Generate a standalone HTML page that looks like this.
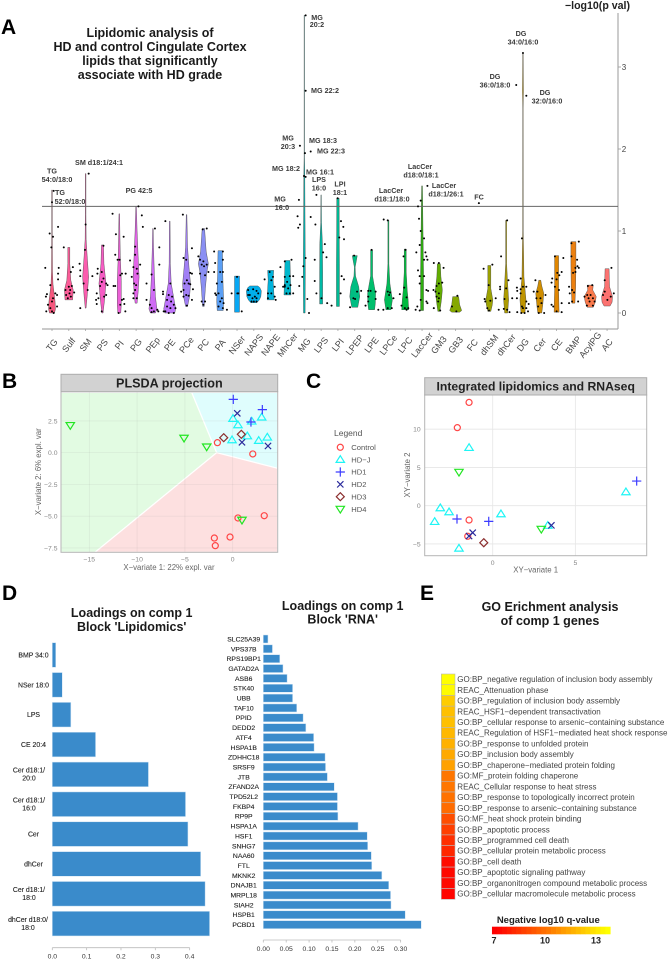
<!DOCTYPE html>
<html lang="en">
<head>
<meta charset="utf-8">
<title>Lipidomic analysis figure</title>
<style>
  html, body { margin: 0; padding: 0; background: #fff; }
  svg { display: block; font-family: "Liberation Sans", sans-serif; filter: blur(0.3px); }
  .note { font-size: 7.2px; font-weight: 700; fill: #3a3a3a; text-anchor: middle; }
  .letter { font-size: 21px; font-weight: 700; fill: #000; }
  .title { font-size: 12.5px; font-weight: 700; fill: #1a1a1a; text-anchor: middle; }
  .axis-label { font-size: 7.8px; fill: #666; text-anchor: middle; }
</style>
</head>
<body>
<svg id="fig" xmlns="http://www.w3.org/2000/svg" width="670" height="960" viewBox="0 0 670 960">
  <rect x="0" y="0" width="670" height="960" fill="#fff"/>

  <text class="letter" x="1" y="34">A</text>
  <text class="letter" x="2" y="388">B</text>
  <text class="letter" x="306" y="388">C</text>
  <text class="letter" x="2" y="600">D</text>
  <text class="letter" x="420" y="600">E</text>

  <g>
    <text class="title" x="150" y="37">Lipidomic analysis of</text>
    <text class="title" x="150" y="51">HD and control Cingulate Cortex</text>
    <text class="title" x="150" y="65">lipids that significantly</text>
    <text class="title" x="150" y="79">associate with HD grade</text>
  </g>
  <text x="630" y="9" text-anchor="end" font-size="10.6" font-weight="700" fill="#222">−log10(p val)</text>

  <g id="panelA"></g>

  <g>
    <text class="note" x="52" y="173.5">TG</text><text class="note" x="57" y="182">54:0/18:0</text>
    <text class="note" x="60" y="195">TG</text><text class="note" x="70" y="204">52:0/18:0</text>
    <text class="note" x="99" y="165">SM d18:1/24:1</text>
    <text class="note" x="139" y="193">PG 42:5</text>
    <text class="note" x="288" y="140.5">MG</text><text class="note" x="288" y="149">20:3</text>
    <text class="note" x="286" y="171">MG 18:2</text>
    <text class="note" x="320" y="174.5">MG 16:1</text>
    <text class="note" x="319" y="182">LPS</text><text class="note" x="319" y="190.5">16:0</text>
    <text class="note" x="280" y="201.5">MG</text><text class="note" x="282" y="210">16:0</text>
    <text class="note" x="317" y="20">MG</text><text class="note" x="317" y="27">20:2</text>
    <text class="note" x="325" y="93">MG 22:2</text>
    <text class="note" x="323" y="143">MG 18:3</text>
    <text class="note" x="331" y="153.5">MG 22:3</text>
    <text class="note" x="340" y="186.5">LPI</text><text class="note" x="340" y="195">18:1</text>
    <text class="note" x="391" y="193">LacCer</text><text class="note" x="392" y="201.5">d18:1/18:0</text>
    <text class="note" x="420" y="169">LacCer</text><text class="note" x="421" y="177.5">d18:0/18:1</text>
    <text class="note" x="444" y="188">LacCer</text><text class="note" x="446" y="196.5">d18:1/26:1</text>
    <text class="note" x="479" y="199.5">FC</text>
    <text class="note" x="521" y="36">DG</text><text class="note" x="523" y="44.5">34:0/16:0</text>
    <text class="note" x="495" y="79">DG</text><text class="note" x="495" y="87.5">36:0/18:0</text>
    <text class="note" x="545" y="95">DG</text><text class="note" x="547" y="103.5">32:0/16:0</text>
  </g>

  <g id="panelB"></g>
  <g id="panelC"></g>
  <g id="legend">
    <text x="334" y="436" font-size="8.5" fill="#555">Legend</text>
  </g>

  <g>
    <text class="title" x="131.7" y="617">Loadings on comp 1</text>
    <text class="title" x="131.7" y="631">Block 'Lipidomics'</text>
  </g>
  <g id="panelD1"></g>

  <g>
    <text class="title" x="342.7" y="610">Loadings on comp 1</text>
    <text class="title" x="342.7" y="623.5">Block 'RNA'</text>
  </g>
  <g id="panelD2"></g>

  <g>
    <text class="title" x="550" y="611">GO Erichment analysis</text>
    <text class="title" x="550" y="625">of comp 1 genes</text>
  </g>
  <g id="panelE"></g>
</svg>

<script>
/* ---------- Panel A data ---------- */
const aCategories = ["TG","Sulf","SM","PS","PI","PG","PEp","PE","PCe","PC","PA","NSer","NAPS","NAPE","MhCer","MG","LPS","LPI","LPEP","LPE","LPCe","LPC","LacCer","GM3","GB3","FC","dhSM","dhCer","DG","Cer","CE","BMP","AcylPG","AC"];
const aColors = ["#f6587e","#fb5c98","#fb5cae","#f65cc4","#ec60d6","#e264e8","#cf6cf4","#bd74fb","#a17ff5","#8a8ff3","#5a9ff5","#08a8f4","#00aeea","#00b3dc","#00b7cb","#00b8b4","#00b9a5","#00ba94","#00bd82","#00bf6c","#00bc58","#00ba3e","#2eae10","#62ad00","#85a800","#9aa300","#9ca200","#ad9b00","#bf9400","#cf8d00","#e08600","#ec8010","#fa7a4c","#fb7270"];
const aThreshold = [1.3];
const aViolins = [
 [[0,2.5],[0.05,3.5],[0.15,3],[0.25,2],[0.35,1],[0.5,0.5],[1,0.3],[1.5,0.3]],
 [[0.16,3.8],[0.28,4.4],[0.4,2],[0.6,1],[0.8,1]],
 [[0.06,0.4],[0.2,1.5],[0.44,3],[0.7,1.5],[0.9,0.5],[1.2,0.3],[1.7,0.3]],
 [[0,0.6],[0.15,2],[0.36,3.5],[0.6,1.5],[0.83,1]],
 [[0,1.5],[0.1,2],[0.4,2],[0.7,1],[1.21,0.3]],
 [[0.12,1],[0.25,2],[0.44,3],[0.7,2],[1,1],[1.3,0.3]],
 [[0,2.5],[0.05,4],[0.2,2.5],[0.45,1.5],[0.8,0.6],[1.03,0.3]],
 [[0,5],[0.05,6],[0.15,4.5],[0.36,1.5],[0.6,0.6],[1.12,0.3]],
 [[0.08,1],[0.2,3],[0.35,4],[0.55,2.5],[0.8,1],[1.2,0.3]],
 [[0.08,0.8],[0.3,2],[0.5,3.5],[0.6,5],[0.75,2.8],[1.03,1.2]],
 [[0.03,3],[0.15,3.5],[0.3,3],[0.5,2.5],[0.76,2.2]],
 [[0.01,2.5],[0.45,2.5]],
 [[0.125,3],[0.16,5.5],[0.2,7],[0.27,7.5],[0.31,6],[0.33,4]],
 [[0.16,3.5],[0.3,3],[0.4,2.5],[0.52,3]],
 [[0.22,3.5],[0.4,3],[0.64,2.5]],
 [[0,0.8],[0.5,1],[1,0.8],[1.66,0.5],[1.9,0.2],[3.63,0.2]],
 [[0.11,1.5],[0.5,1.5],[0.85,1.3],[1.1,0.4],[1.44,0.2]],
 [[0.08,1.5],[0.6,1.5],[1,1.3],[1.4,1.2]],
 [[0.07,3],[0.2,5],[0.32,4],[0.45,0.8],[0.56,0.4],[0.63,1.5],[0.7,2.5]],
 [[0.04,3],[0.12,3.8],[0.24,4],[0.38,2],[0.45,1],[0.77,1]],
 [[0.04,2.5],[0.16,4],[0.36,1.5],[0.6,0.5],[1.13,0.5]],
 [[0.04,3.5],[0.15,3],[0.28,2],[0.5,1],[0.78,1]],
 [[0.03,1.5],[0.5,1.5],[0.97,1],[1.55,0.4]],
 [[0.02,1],[0.15,2.5],[0.28,3.5],[0.45,2],[0.6,1.5]],
 [[0.01,4],[0.03,6],[0.1,4],[0.2,3]],
 [],
 [[0.02,1.5],[0.1,3],[0.16,3.5],[0.3,1.5],[0.58,1.5]],
 [[0,1.5],[0.16,2.5],[0.36,1.5],[0.6,0.5],[1.13,0.5]],
 [[0,2],[0.16,3],[0.44,1],[1,0.3],[2.5,0.2],[2.7,0.5],[3.17,0.2]],
 [[0,2],[0.1,3],[0.24,4],[0.33,2],[0.4,1]],
 [[0.01,2.5],[0.28,2],[0.5,2],[0.7,2]],
 [[0.12,1.5],[0.3,2.2],[0.6,2.5],[0.87,2.5]],
 [[0.07,3],[0.13,5],[0.2,6],[0.28,2.5],[0.34,3]],
 [[0.085,3],[0.13,5],[0.2,5.5],[0.32,2.5],[0.54,2]]
];
const aPoints = [
 [[-.4,.55],[-.14,.97],[.06,.93],[.36,1.05],[-.04,.8],[.4,.55],[.36,.48],[.36,.41],[-.1,.34],[-.3,.23],[-.36,.2],[.2,.24],[.3,.22],[.06,.18],[0,.14],[.3,.08],[-.24,.1],[-.1,.06],[-.34,.02],[0,.02],[.1,0],[0,1.35],[.1,1.49]],
 [[-.3,.8],[.24,.56],[.12,.5],[0,.32],[.18,.33],[-.2,.28],[.04,.24],[.32,.25],[-.16,.22],[.12,.2],[-.06,.18],[.08,.28]],
 [[.18,1.7],[0,1.08],[-.36,.6],[-.32,.52],[-.32,.45],[.4,.45],[.12,.28],[-.32,.06],[-.04,.77],[-.12,.36]],
 [[.06,.82],[-.28,.54],[-.3,.48],[-.04,.5],[.06,.42],[.22,.36],[-.04,.38],[.3,.34],[-.14,.33],[-.34,.24],[.22,.22],[.1,.2],[-.38,.16],[-.24,.18],[-.04,.02],[-.34,.11]],
 [[-.4,1.21],[-.2,.96],[.26,.93],[-.24,.71],[-.1,.65],[.02,.65],[-.34,.33],[-.24,.33],[.16,.48],[.38,.48],[.06,.46],[.26,.17],[.16,.16],[.06,.1],[-.04,0],[.36,.02],[.3,.11]],
 [[.14,1.3],[.34,1.19],[.4,1.05],[-.06,.81],[-.06,.71],[-.36,.64],[.24,.59],[-.16,.56],[.04,.54],[-.26,.44],[.08,.48],[-.12,.36],[0,.34],[-.16,.24],[-.06,.28],[.04,.18],[-.16,.18]],
 [[.12,1.03],[.38,.8],[.38,.59],[-.08,.47],[-.38,.36],[.06,.28],[-.38,.16],[-.18,.1],[-.08,.06],[.06,.02],[.26,.04],[.32,.02],[-.08,.01]],
 [[-.26,1.12],[.04,.36],[-.4,.26],[-.4,.23],[-.06,.22],[.14,.2],[-.16,.16],[.08,.14],[.24,.1],[-.16,.08],[.04,.06],[-.26,.02],[-.06,0],[.24,0],[.34,.06],[-.36,.02]],
 [[-.22,1.2],[.32,.79],[-.18,.67],[-.02,.65],[.22,.49],[.32,.48],[.02,.4],[-.12,.36],[-.18,.28],[-.32,.26],[.12,.36],[.22,.35],[.38,.29],[-.02,.22],[.12,.21],[-.18,.2],[.32,.16],[.02,.09]],
 [[.2,1.03],[-.04,1.02],[-.3,.69],[-.2,.65],[0,.63],[.2,.59],[-.1,.59],[.04,.57],[.3,.5],[.64,.5],[-.2,.48],[-.1,.14],[.1,.14],[0,.1],[.1,.46]],
 [[-.36,.75],[.16,.75],[.16,.65],[-.3,.61],[0,.5],[.16,.5],[-.2,.36],[.1,.38],[-.1,.24],[-.24,.22],[.1,.18],[0,.14],[.2,.12],[-.1,.08],[.16,.06],[.4,.04],[-.3,.24]],
 [[-.32,.24],[.02,.24],[.28,.02],[0,.44],[.08,.24]],
 [[-.34,.28],[-.04,.29],[.16,.27],[.26,.24],[-.24,.22],[.06,.2],[-.08,.18],[-.34,.22],[.16,.18],[-.14,.14],[0,.14],[.16,.14]],
 [[-.36,.41],[-.06,.5],[.14,.44],[.04,.4],[.24,.32],[-.16,.24],[.04,.24],[.24,.2],[.3,.16],[-.16,.18]],
 [[-.42,.56],[-.16,.63],[.24,.65],[.14,.45],[.34,.45],[-.16,.44],[-.02,.38],[-.16,.34],[.18,.34],[-.26,.32],[.04,.3],[-.06,.24],[.14,.24],[.34,.24],[-.16,.32]],
 [[.08,3.63],[.08,2.71],[-.26,2.04],[.04,1.95],[.38,1.97],[-.02,1.67],[.08,1.66],[-.32,1.38],[-.4,1.18],[-.26,1.08],[-.36,1.04],[.38,1.17],[.08,.67],[-.06,.57],[-.12,.44],[-.3,.33],[.18,.17],[.28,0]],
 [[-.28,1.44],[-.34,1.08],[-.38,.65],[-.38,.39],[-.28,.24],[.22,.84],[.12,.74],[.32,.68],[.02,.18],[.36,.12],[.62,.09]],
 [[-.02,1.4],[.18,1.12],[.32,1.05],[.08,.92],[.36,.9],[.22,.45],[.36,.41],[.16,.24]],
 [[-.04,.7],[.14,.26],[.38,.27],[-.28,.07],[-.08,.18],[.02,.17]],
 [[0,.77],[-.2,.27],[-.06,.27],[.24,.26],[-.2,.2],[-.2,.14],[.24,.17],[-.36,.09],[.4,.04]],
 [[-.28,1.14],[-.04,1.13],[-.04,.26],[.1,.25],[.04,.22],[.3,.18],[-.3,.04],[-.04,.06],[.2,.06]],
 [[.02,.77],[-.1,.69],[-.06,.31],[-.32,.23],[.08,.19],[-.22,.09],[-.02,.06],[.08,.04],[.18,.06]],
 [[.32,1.55],[-.08,1.37],[-.24,1.3],[-.18,1.15],[-.08,1],[.12,.91],[-.14,.83],[-.34,.74],[.2,.74],[.26,.69],[.12,.65],[.32,.65],[-.24,.52],[-.14,.45],[.12,.45],[-.14,.36],[.26,.28],[.36,.27],[.26,.14],[.32,.12],[-.28,.08],[-.08,.16],[-.38,.04],[-.14,.03]],
 [[-.3,.61],[0,.61],[.28,.55],[.2,.37],[0,.36],[-.14,.33],[-.32,.28],[-.2,.26],[0,.24],[-.14,.2],[0,.18],[-.3,.06],[.08,.03],[-.04,.14]],
 [[-.22,.08],[.1,.21],[.04,.02]],
 [[.38,1.34]],
 [[-.34,.54],[.18,.59],[-.04,.34],[-.28,.17],[.06,.15],[.38,.18],[-.24,.14],[-.12,.06],[-.02,.03]],
 [[.06,1.13],[-.3,.69],[-.36,.32],[-.36,.29],[0,.3],[.14,.4],[.36,.18],[-.1,.17],[.06,.04],[-.44,.04],[.2,.01],[-.14,.05]],
 [[0,3.17],[-.4,2.78],[.2,2.65],[-.06,.91],[-.14,.42],[-.36,.31],[-.14,.29],[.2,.32],[0,.32],[-.34,.27],[-.14,.24],[-.36,.18],[.2,.14],[.34,.11],[-.06,.08],[0,.06],[.2,.06],[.3,.02],[-.34,.01],[-.1,0],[.1,0]],
 [[-.26,.4],[-.36,.26],[-.14,.26],[.34,.22],[.04,.18],[-.2,.18],[.1,.12],[-.1,.08],[.26,0],[-.06,0]],
 [[.4,.67],[-.1,.69],[.04,.49],[.3,.5],[-.26,.42],[.16,.46],[0,.41],[-.3,.37],[-.1,.32],[.14,.28],[-.3,.1],[-.2,.08],[.3,.12],[0,.02],[.3,.01]],
 [[-.12,.85],[.32,.87],[-.12,.69],[.22,.65],[.24,.57],[.12,.55],[.32,.55],[-.02,.49],[.12,.5],[-.26,.32],[-.08,.28],[.04,.25],[-.22,.24],[-.08,.14],[-.26,.12],[.28,.14]],
 [[-.14,.33],[.12,.34],[-.18,.22],[.02,.22],[-.34,.2],[-.1,.18],[.16,.18],[.26,.14],[-.2,.09],[.16,.09],[-.04,.14]],
 [[.26,.55],[-.14,.4],[.4,.24],[-.24,.22],[.22,.2],[.02,.16],[-.14,.26]]
];
const aYTicks = [0,1,2,3];

/* ---------- Panel B data ---------- */
const groupNames = ["Control","HD−J","HD1","HD2","HD3","HD4"];
const plsdaControl = [[-1.6,.79],[2.1,-.1],[3.3,-4.96],[.55,-5.14],[-.28,-6.64],[-1.92,-6.72],[-1.82,-7.32]];
const plsdaHDJ = [[.03,2.68],[.55,2.18],[3.03,2.79],[1.99,2.47],[1.53,1.31],[-.07,1.0],[2.72,.95],[3.62,1.21]];
const plsdaHD1 = [[.06,4.2],[3.1,3.39],[1.91,2.42]];
const plsdaHD2 = [[.48,3.1],[.97,.82],[3.69,.53]];
const plsdaHD3 = [[-.94,1.18],[.9,1.45]];
const plsdaHD4 = [[-16.99,2.16],[-5.09,1.16],[-2.72,.47],[.97,-5.3]];
const plsdaXTicks = [-15,-10,-5,0];
const plsdaYTicks = [2.5,0,-2.5,-5,-7.5];
const plsdaGreenRegion = [[-17.96,4.75],[-4.29,4.75],[-1.67,0],[-14.4,-7.84],[-17.96,-7.84]];
const plsdaBlueRegion = [[-4.29,4.75],[4.7,4.75],[4.7,-1.23],[-1.67,0]];
const plsdaRedRegion = [[-1.67,0],[4.7,-1.23],[4.7,-7.84],[-14.4,-7.84]];

/* ---------- Panel C data ---------- */
const xyControl = [[-1.43,13.5],[-2.14,10.2],[-1.43,-1.87],[-1.51,-4.0]];
const xyHDJ = [[-1.43,7.58],[8.06,1.79],[-3.17,-.3],[-2.64,-.83],[-3.51,-2.09],[.5,-1.09],[-2.04,-5.58],[3.33,-2.6]];
const xyHD1 = [[8.71,3.22],[-2.16,-1.74],[-.24,-2.05]];
const xyHD2 = [[-1.21,-3.53],[-1.43,-3.97],[3.55,-2.57]];
const xyHD3 = [[-.54,-4.84]];
const xyHD4 = [[-2.04,4.4],[2.94,-3.05]];
const xyXTicks = [0,5];
const xyYTicks = [10,5,0,-5];

/* ---------- Panel D data ---------- */
const lipidLabels = ["BMP 34:0","NSer 18:0","LPS","CE 20:4","Cer d18:1/|20:0","Cer d18:1/|16:0","Cer","dhCer","Cer d18:1/|18:0","dhCer d18:0/|18:0"];
const lipidLoadings = [.01,.029,.054,.126,.28,.388,.395,.432,.445,.458];
const lipidTicks = ["0.0","0.1","0.2","0.3","0.4"];
const rnaLabels = ["SLC25A39","VPS37B","RPS19BP1","GATAD2A","ASB6","STK40","UBB","TAF10","PPID","DEDD2","ATF4","HSPA1B","ZDHHC18","SRSF9","JTB","ZFAND2A","TPD52L2","FKBP4","RP9P","HSPA1A","HSF1","SNHG7","NAA60","FTL","MKNK2","DNAJB1","MRPL18","SIAH2","HSPB1","PCBD1"];
const rnaLoadings = [.0102,.02,.036,.043,.052,.064,.064,.073,.087,.093,.11,.111,.135,.136,.14,.155,.162,.162,.163,.207,.227,.228,.236,.237,.259,.274,.278,.279,.31,.345];
const rnaTicks = ["0.00","0.05","0.10","0.15","0.20","0.25","0.30"];

/* ---------- Panel E data ---------- */
const goTerms = ["GO:BP_negative regulation of inclusion body assembly","REAC_Attenuation phase","GO:BP_regulation of inclusion body assembly","REAC_HSF1−dependent transactivation","GO:BP_cellular response to arsenic−containing substance","REAC_Regulation of HSF1−mediated heat shock response","GO:BP_response to unfolded protein","GO:BP_inclusion body assembly","GO:BP_chaperone−mediated protein folding","GO:MF_protein folding chaperone","REAC_Cellular response to heat stress","GO:BP_response to topologically incorrect protein","GO:BP_response to arsenic−containing substance","GO:MF_heat shock protein binding","GO:BP_apoptotic process","GO:BP_programmed cell death","GO:BP_cellular protein metabolic process","GO:BP_cell death","GO:BP_apoptotic signaling pathway","GO:BP_organonitrogen compound metabolic process","GO:BP_cellular macromolecule metabolic process"];
const goValues = [13.5,13.4,12.2,11.9,11.9,11.7,11.5,11.3,11.1,10,10,9.9,9.75,9,8.6,8.2,8,7.3,7.2,7.2,7.1];
const qTicks = [7,10,13];

/* ---------- helpers ---------- */
const NS = "http://www.w3.org/2000/svg";
function mk(parent, tag, attrs, text) {
  const e = document.createElementNS(NS, tag);
  for (const k in attrs) e.setAttribute(k, attrs[k]);
  if (text !== undefined) e.textContent = text;
  parent.appendChild(e);
  return e;
}
function slug(s) { return String(s).toLowerCase().replace(/[^a-z0-9]+/g, '-').replace(/^-|-$/g, ''); }

/* ---------- Panel A ---------- */
(function () {
  const g = document.getElementById('panelA');
  const xA = i => 52 + 16.82 * i;
  const yA = v => 313 - 82 * v;
  const axisB = mk(g, 'line', {x1: 42, x2: 618, y1: 329, y2: 329, stroke: '#aaa', 'stroke-width': 1.2});
  
  
  const axisR = mk(g, 'line', {x1: 618, x2: 618, y1: 13, y2: 329, stroke: '#999', 'stroke-width': 1});
  
  
  aYTicks.forEach(v => {
    const t = mk(g, 'line', {x1: 618, x2: 621, y1: yA(v), y2: yA(v), stroke: '#999', 'stroke-width': .8});
    
    
    const l = mk(g, 'text', {x: 624, y: yA(v) + 3, 'font-size': 8, fill: '#444', 'text-anchor': 'middle'}, v);
    
    
  });
  aCategories.forEach((c, i) => {
    const x = xA(i);
    const tk = mk(g, 'line', {x1: x, x2: x, y1: 329, y2: 331, stroke: '#999', 'stroke-width': .7});
    
    
    const lb = mk(g, 'text', {x: x, y: 348, 'font-size': 9, fill: '#444', 'text-anchor': 'middle', transform: 'rotate(-52 ' + x + ' 345)'}, c);
    
    
    const prof = aViolins[i];
    if (prof.length) {
      const left = prof.map(p => (x - p[1]).toFixed(2) + ',' + yA(p[0]).toFixed(2));
      const right = prof.slice().reverse().map(p => (x + p[1]).toFixed(2) + ',' + yA(p[0]).toFixed(2));
      const v = mk(g, 'polygon', {points: left.concat(right).join(' '), fill: aColors[i], stroke: '#444', 'stroke-width': .5, 'stroke-opacity': .8});
      
      
    }
  });
  const th = mk(g, 'line', {x1: 42, x2: 618, y1: yA(aThreshold[0]), y2: yA(aThreshold[0]), stroke: '#666', 'stroke-width': 1});
  
  
  aPoints.forEach((set, i) => set.forEach(p => {
    const d = mk(g, 'circle', {cx: (xA(i) + p[0] * 16.82).toFixed(2), cy: yA(p[1]).toFixed(2), r: 1, fill: '#000'});
    
    
  }));
})();

/* ---------- scatter markers ---------- */
const markerStyle = {
  "Control": {color: '#ff4545'},
  "HD−J": {color: '#1ff5f5'},
  "HD1": {color: '#3c3cff'},
  "HD2": {color: '#2a2a9c'},
  "HD3": {color: '#8c2f2f'},
  "HD4": {color: '#22e622'}
};
function marker(parent, group, x, y, s) {
  const col = markerStyle[group].color;
  const st = {fill: 'none', stroke: col, 'stroke-width': 1.2};
  let m;
  if (group === 'Control') m = mk(parent, 'circle', Object.assign({cx: x, cy: y, r: s * .72}, st));
  else if (group === 'HD−J') m = mk(parent, 'polygon', Object.assign({points: [[x, y - s * .95], [x + s, y + s * .65], [x - s, y + s * .65]].map(p => p.join(',')).join(' ')}, st));
  else if (group === 'HD1') m = mk(parent, 'path', Object.assign({d: 'M' + (x - s * 1.1) + ' ' + y + 'H' + (x + s * 1.1) + 'M' + x + ' ' + (y - s * 1.1) + 'V' + (y + s * 1.1)}, st));
  else if (group === 'HD2') m = mk(parent, 'path', Object.assign({d: 'M' + (x - s * .75) + ' ' + (y - s * .75) + 'L' + (x + s * .75) + ' ' + (y + s * .75) + 'M' + (x - s * .75) + ' ' + (y + s * .75) + 'L' + (x + s * .75) + ' ' + (y - s * .75)}, st));
  else if (group === 'HD3') m = mk(parent, 'polygon', Object.assign({points: [[x, y - s * .95], [x + s * .95, y], [x, y + s * .95], [x - s * .95, y]].map(p => p.join(',')).join(' ')}, st));
  else m = mk(parent, 'polygon', Object.assign({points: [[x, y + s * .95], [x + s, y - s * .65], [x - s, y - s * .65]].map(p => p.join(',')).join(' ')}, st));
  return m;
}

function framePanel(g, left, right, headTop, headBottom, bottom, title, titleSize) {
  const head = mk(g, 'rect', {x: left, y: headTop, width: right - left, height: headBottom - headTop, fill: '#d2d2d2', stroke: '#adadad', 'stroke-width': 1});
  
  
  const tt = mk(g, 'text', {x: (left + right) / 2, y: (headTop + headBottom) / 2 + 4.3, 'font-size': titleSize, 'font-weight': 700, fill: '#222', 'text-anchor': 'middle'}, title);
  
  
}

/* ---------- Panel B ---------- */
(function () {
  const g = document.getElementById('panelB');
  const L = 61, R = 277.7, T = 391.7, Bt = 552.3;
  const xB = v => 232.7 + 9.56 * v;
  const yB = v => 452.7 - 12.7 * v;
  const poly = pts => pts.map(p => xB(p[0]).toFixed(1) + ',' + yB(p[1]).toFixed(1)).join(' ');
  [[plsdaGreenRegion, '#e2fbe2', 'hd4-region'], [plsdaBlueRegion, '#dffdfd', 'hd-early-region'], [plsdaRedRegion, '#fde0e0', 'control-region']].forEach(r => {
    const p = mk(g, 'polygon', {points: poly(r[0]), fill: r[1], stroke: '#fff', 'stroke-width': 1.2});
    
    
  });
  plsdaXTicks.forEach(v => {
    const gl = mk(g, 'line', {x1: xB(v), x2: xB(v), y1: T, y2: Bt, stroke: '#8a8a8a', 'stroke-opacity': .14, 'stroke-width': .7});
    
    
    const tx = mk(g, 'text', {x: xB(v), y: 561.5, 'font-size': 6.8, fill: '#888', 'text-anchor': 'middle'}, String(v).replace('-', '−'));
    
    
  });
  plsdaYTicks.forEach(v => {
    const gl = mk(g, 'line', {x1: L, x2: R, y1: yB(v), y2: yB(v), stroke: '#8a8a8a', 'stroke-opacity': .14, 'stroke-width': .7});
    
    
    const tx = mk(g, 'text', {x: 57.5, y: yB(v) + 2.4, 'font-size': 6.8, fill: '#888', 'text-anchor': 'end'}, v.toFixed(1).replace('-', '−'));
    
    
  });
  const border = mk(g, 'rect', {x: L, y: T, width: R - L, height: Bt - T, fill: 'none', stroke: '#b5b5b5', 'stroke-width': 1});
  
  
  framePanel(g, L, R, 374.3, T, Bt, 'PLSDA projection', 12.6);
  const xl = mk(g, 'text', {class: 'axis-label', x: 169, y: 570}, 'X−variate 1: 22% expl. var');
  
  
  const yl = mk(g, 'text', {class: 'axis-label', x: 41, y: 471.7, transform: 'rotate(-90 41 471.7)'}, 'X−variate 2: 6% expl. var');
  
  
  [plsdaControl, plsdaHDJ, plsdaHD1, plsdaHD2, plsdaHD3, plsdaHD4].forEach((set, k) => set.forEach(p => {
    const m = marker(g, groupNames[k], xB(p[0]), yB(p[1]), 4.2);
    
    
  }));
})();

/* ---------- Panel C ---------- */
(function () {
  const g = document.getElementById('panelC');
  const L = 424.7, R = 646.7, T = 395, Bt = 555.7;
  const xC = v => 492.7 + 16.53 * v;
  const yC = v => 505.7 - 7.65 * v;
  xyXTicks.forEach(v => {
    const gl = mk(g, 'line', {x1: xC(v), x2: xC(v), y1: T, y2: Bt, stroke: '#e6e6e6', 'stroke-width': .8});
    
    
    const tx = mk(g, 'text', {x: xC(v), y: 565, 'font-size': 6.8, fill: '#888', 'text-anchor': 'middle'}, v);
    
    
  });
  xyYTicks.forEach(v => {
    const gl = mk(g, 'line', {x1: L, x2: R, y1: yC(v), y2: yC(v), stroke: '#e6e6e6', 'stroke-width': .8});
    
    
    const tx = mk(g, 'text', {x: 420.7, y: yC(v) + 2.4, 'font-size': 6.8, fill: '#888', 'text-anchor': 'end'}, String(v).replace('-', '−'));
    
    
  });
  const border = mk(g, 'rect', {x: L, y: T, width: R - L, height: Bt - T, fill: 'none', stroke: '#b5b5b5', 'stroke-width': 1});
  
  
  framePanel(g, L, R, 377.7, T, Bt, 'Integrated lipidomics and RNAseq', 12.2);
  const xl = mk(g, 'text', {class: 'axis-label', x: 535.7, y: 572.5}, 'XY−variate 1');
  
  
  const yl = mk(g, 'text', {class: 'axis-label', x: 410, y: 475, transform: 'rotate(-90 410 475)'}, 'XY−variate 2');
  
  
  [xyControl, xyHDJ, xyHD1, xyHD2, xyHD3, xyHD4].forEach((set, k) => set.forEach(p => {
    const m = marker(g, groupNames[k], xC(p[0]), yC(p[1]), 4.2);
    
    
  }));
  const lg = document.getElementById('legend');
  groupNames.forEach((n, i) => {
    const y = 447.3 + 12.35 * i;
    const m = marker(lg, n, 340.3, y, 4.2);
    
    
    const t = mk(lg, 'text', {x: 351.3, y: y + 2.7, 'font-size': 7.6, fill: '#555'}, n);
    
    
  });
})();

/* ---------- Panel D ---------- */
function barChart(g, labels, values, ticks, x0, pxPerUnit, firstY, step, barH, axisY, labelX, size, prefix) {
  const xD = v => x0 + pxPerUnit * v;
  labels.forEach((name, i) => {
    const y = firstY + step * i;
    const b = mk(g, 'rect', {x: x0, y: y - barH / 2, width: xD(values[i]) - x0, height: barH, fill: '#3a8bcb', stroke: '#cfe3f3', 'stroke-width': .5});
    
    
    const lines = name.split('|');
    lines.forEach((ln, k) => {
      const offset = lines.length > 1 ? (k === 0 ? -1.8 : 6.2) : 2.4;
      const cx = labelX(name);
      const t = mk(g, 'text', {x: cx, y: y + offset, 'font-size': size, fill: '#222', stroke: '#222', 'stroke-width': .12, 'text-anchor': 'middle'}, ln);
      
      
    });
  });
  const lastVal = parseFloat(ticks[ticks.length - 1]);
  const ax = mk(g, 'line', {x1: x0, x2: xD(lastVal), y1: axisY, y2: axisY, stroke: '#bbb', 'stroke-width': .8});
  
  
  ticks.forEach(s => {
    const v = parseFloat(s);
    const tk = mk(g, 'line', {x1: xD(v), x2: xD(v), y1: axisY, y2: axisY + 2.5, stroke: '#bbb', 'stroke-width': .8});
    
    
    const t = mk(g, 'text', {x: xD(v), y: axisY + 11, 'font-size': 6.8, fill: '#333', 'text-anchor': 'middle'}, s);
    
    
  });
}
barChart(document.getElementById('panelD1'), lipidLabels, lipidLoadings, lipidTicks, 52.3, 343.4, 655, 29.85, 24.6, 947.7, n => n.indexOf('dhCer d') === 0 ? 28 : (n.indexOf('|') > 0 ? 29 : 33.5), 6.9, 'lipid');
barChart(document.getElementById('panelD2'), rnaLabels, rnaLoadings, rnaTicks, 263.3, 457.8, 639, 9.85, 8, 940, () => 243.7, 6.8, 'rna');

/* ---------- Panel E ---------- */
(function () {
  const g = document.getElementById('panelE');
  const colorOf = v => {
    const gr = Math.max(0, Math.min(255, Math.round((v - 7) / 6.5 * 255)));
    return 'rgb(255,' + gr + ',0)';
  };
  const rowH = 225.3 / goTerms.length;
  goTerms.forEach((term, i) => {
    const y = 674 + rowH * i;
    const c = mk(g, 'rect', {x: 441.3, y: y, width: 13.7, height: rowH, fill: colorOf(goValues[i]), stroke: '#b8b8b8', 'stroke-width': .6});
    
    
    const t = mk(g, 'text', {x: 457.3, y: y + rowH / 2 + 2.7, 'font-size': 8, fill: '#444'}, term);
    
    
  });
  const xQ = v => 494 + 17 * (v - 7);
  const qt = mk(g, 'text', {x: 548.3, y: 923, 'font-size': 9.5, 'font-weight': 700, fill: '#222', 'text-anchor': 'middle'}, 'Negative log10 q-value');
  
  
  for (let v = 6.88; v < 13.76; v += 0.29) {
    const s = mk(g, 'rect', {x: xQ(v), y: 926.7, width: 17 * 0.29 + .3, height: 7.6, fill: colorOf(v)});
    
    
  }
  qTicks.forEach(v => {
    const t = mk(g, 'text', {x: xQ(v), y: 943.3, 'font-size': 9, 'font-weight': 700, fill: '#222', 'text-anchor': 'middle'}, v);
    
    
  });
})();
</script>
</body>
</html>
